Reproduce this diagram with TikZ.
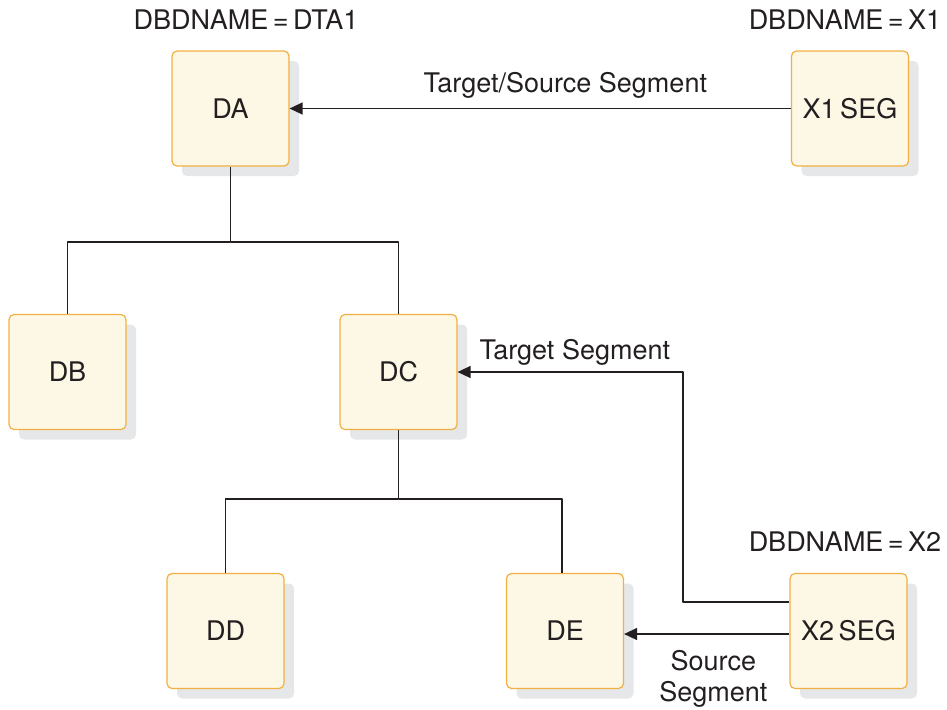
\documentclass[tikz,border=0pt]{standalone}
\usepackage{fontspec}
\setmainfont{TeX Gyre Heros}
\usetikzlibrary{arrows.meta,shadows}

\definecolor{boxfill}{HTML}{FDF7E5}
\definecolor{boxline}{HTML}{F2B043}
\definecolor{boxshade}{HTML}{E6E7E9}
\definecolor{inkgray}{HTML}{231F20}

\tikzset{
  segbox/.style={draw=boxline, fill=boxfill, rounded corners=2.5pt, line width=0.6pt,
    minimum width=58.5pt, minimum height=57.5pt, inner sep=0pt, text=inkgray,
    font=\fontsize{13.5}{16}\selectfont,
    general shadow={fill=boxshade, shadow xshift=5pt, shadow yshift=-5pt}},
  tag/.style={font=\fontsize{13.5}{15.5}\selectfont, inner sep=0pt, text=inkgray},
  tree/.style={draw=inkgray, line width=0.75pt},
  link/.style={tree, -{Triangle[length=6.5pt,width=6pt]}}
}

\begin{document}
\begin{tikzpicture}[x=0.5pt, y=-0.5pt, line join=round]
\useasboundingbox (0,0) rectangle (947,709);

% segments
\node[segbox] (DA) at (230.5,108.5) {DA};
\node[segbox] (X1) at (850,108.5) {X1\,SEG};
\node[segbox] (DB) at (67.5,372) {DB};
\node[segbox] (DC) at (398.5,372) {DC};
\node[segbox] (DD) at (225.5,631) {DD};
\node[segbox] (DE) at (565,631) {DE};
\node[segbox] (X2) at (848.5,631) {X2\,SEG};

% database names
\node[tag] (nDTA) at (246,20) {DBDNAME\,=\,DTA1};
\node[tag] (nX1) at (845,20) {DBDNAME\,=\,X1};
\node[tag] (nX2) at (845,542) {DBDNAME\,=\,X2};

% hierarchy
\coordinate (jA) at (230.5,242);
\coordinate (jC) at (398.5,499);
\draw[tree] (DA.south) -- (jA) -| (DB.north);
\draw[tree] (jA) -| (DC.north);
\draw[tree] (DC.south) -- (jC) -| (DD.north);
\draw[tree] (jC) -| ([xshift=-1.5pt]DE.north);

% logical relationships
\coordinate (tbend) at (683,372);
\draw[link] (X1) -- node[tag, pos=0.45, above=4.5pt] {Target/Source Segment} (DA);
\draw[link] ([yshift=14.5pt]X2.west) -| (tbend) -- node[tag, pos=0.48, above=3pt] {Target Segment} (DC.east);
\draw[link] ([yshift=-1.5pt]X2.west) -- node[tag, pos=0.46, below=8pt, align=center] {Source\\Segment} ([yshift=-1.5pt]DE.east);
\end{tikzpicture}
\end{document}
